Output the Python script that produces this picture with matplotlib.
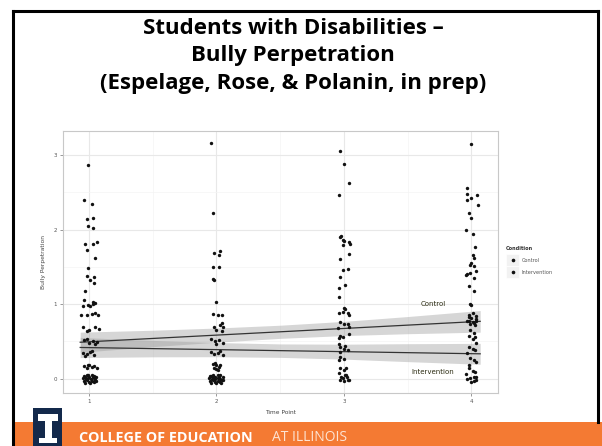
import matplotlib
matplotlib.use("Agg")
import matplotlib.pyplot as plt
from matplotlib.patches import Rectangle
from matplotlib.lines import Line2D
import numpy as np

W, H = 602, 446

# ---- data -------------------------------------------------------------
time_points = [1, 2, 3, 4]
time_labels = ["1", "2", "3", "4"]
y_ticks = [0, 1, 2, 3]
y_tick_labels = ["0", "1", "2", "3"]
conditions = ["Control", "Intervention"]

# jittered observations per wave: (horizontal jitter, score)
ctrl_t1 = [(-0.01, 2.86), (0.02, 2.34), (0.03, 2.16), (0.03, 2.02), (0.03, 1.81),
           (-0.02, 1.73), (-0.01, 1.48), (0.04, 1.37), (0.04, 1.29), (-0.04, 1.05),
           (-0.01, 0.99), (0.03, 1.00), (-0.06, 0.86), (0.02, 0.87), (-0.05, 0.69),
           (0.05, 0.70), (-0.04, 0.52), (0.03, 0.50), (0.06, 0.49), (-0.05, 0.35),
           (0.01, 0.36), (0.02, 0.37), (-0.04, 0.17), (0.0, 0.18), (0.04, 0.17),
           (-0.04, 0.04), (0.0, 0.03), (0.04, 0.04), (-0.045, 0.01), (-0.005, 0.015),
           (0.035, 0.01), (-0.04, -0.03), (0.0, -0.04), (0.04, -0.045), (0.01, -0.055),
           (0.045, -0.02), (-0.035, 0.025)]
intv_t1 = [(-0.04, 2.39), (-0.02, 2.14), (-0.01, 2.05), (-0.03, 1.80), (0.06, 1.83),
           (0.05, 1.62), (-0.02, 1.38), (0.01, 1.33), (-0.03, 1.17), (0.03, 1.03),
           (0.01, 0.98), (-0.05, 0.97), (0.05, 1.01), (-0.02, 0.85), (0.05, 0.88),
           (0.07, 0.86), (0.0, 0.66), (0.08, 0.67), (-0.02, 0.64), (0.0, 0.48),
           (0.05, 0.47), (-0.02, 0.53), (-0.02, 0.33), (0.04, 0.32), (-0.03, 0.31),
           (-0.02, 0.15), (0.02, 0.16), (0.06, 0.15), (-0.01, 0.19), (-0.02, 0.05),
           (0.02, 0.05), (0.055, 0.02), (-0.025, 0.0), (0.015, -0.005), (0.05, -0.01),
           (-0.02, -0.02), (0.02, -0.03), (0.055, -0.035), (-0.03, -0.05),
           (0.03, 0.025), (-0.01, 0.045)]

ctrl_t2 = [(-0.04, 3.16), (-0.02, 1.69), (0.02, 1.66), (-0.03, 1.50), (-0.03, 1.34),
           (0.0, 1.03), (-0.03, 0.87), (0.04, 0.85), (-0.02, 0.70), (0.045, 0.75),
           (0.0, 0.66), (-0.04, 0.53), (0.02, 0.52), (0.0, 0.46), (-0.04, 0.36),
           (0.01, 0.35), (0.05, 0.32), (-0.03, 0.20), (0.0, 0.18), (0.02, 0.16),
           (0.0, 0.13), (-0.05, 0.04), (-0.01, 0.03), (0.03, 0.045), (-0.035, 0.0),
           (0.01, 0.01), (0.045, -0.01), (-0.05, -0.03), (-0.01, -0.04),
           (0.03, -0.045), (0.0, -0.055), (-0.025, 0.02)]
intv_t2 = [(-0.03, 2.22), (0.03, 1.71), (0.02, 1.50), (-0.02, 1.33), (0.01, 0.86),
           (0.03, 0.72), (0.05, 0.69), (0.04, 0.64), (-0.01, 0.50), (0.05, 0.48),
           (-0.02, 0.33), (0.03, 0.37), (-0.02, 0.14), (0.01, 0.12), (-0.01, 0.21),
           (0.03, 0.19), (-0.03, 0.05), (0.01, 0.05), (0.05, 0.03), (-0.055, 0.01),
           (-0.015, -0.005), (0.025, 0.0), (0.05, -0.02), (-0.03, -0.02),
           (0.01, -0.03), (0.035, -0.05), (-0.04, -0.05), (0.02, 0.025),
           (-0.045, 0.035)]

ctrl_t3 = [(-0.03, 3.05), (0.0, 2.88), (0.04, 2.63), (-0.04, 2.46), (-0.03, 1.90),
           (-0.01, 1.86), (0.04, 1.83), (-0.01, 1.79), (0.04, 1.67), (-0.03, 1.60),
           (0.03, 1.47), (-0.03, 1.36), (0.01, 1.26), (-0.04, 1.09), (0.0, 0.95),
           (-0.01, 0.90), (-0.04, 0.88), (-0.03, 0.76), (0.03, 0.74), (-0.05, 0.68),
           (0.04, 0.60), (-0.01, 0.56), (-0.04, 0.46), (0.0, 0.40), (0.01, 0.44),
           (-0.03, 0.29), (0.02, 0.14), (0.01, 0.05), (-0.02, 0.02), (0.03, -0.01)]
intv_t3 = [(-0.025, 1.91), (0.0, 1.84), (0.045, 1.80), (-0.01, 1.46), (-0.04, 1.21),
           (0.01, 0.93), (0.03, 0.88), (0.04, 0.86), (0.0, 0.73), (0.04, 0.70),
           (-0.03, 0.58), (-0.04, 0.55), (-0.03, 0.42), (0.03, 0.38), (-0.03, 0.36),
           (0.0, 0.27), (-0.04, 0.25), (-0.03, 0.14), (0.0, 0.12), (-0.04, 0.08),
           (0.015, 0.05), (-0.01, 0.01), (0.025, 0.02), (0.04, -0.02), (-0.03, -0.01),
           (0.0, -0.03)]

ctrl_t4 = [(0.0, 3.15), (-0.03, 2.55), (-0.03, 2.40), (0.05, 2.33), (0.0, 2.42),
           (-0.02, 2.22), (-0.04, 2.00), (0.03, 1.76), (0.01, 1.66), (-0.01, 1.52),
           (0.0, 1.55), (-0.03, 1.41), (0.04, 1.44), (-0.02, 1.24), (-0.01, 1.00),
           (-0.02, 0.86), (0.04, 0.84), (0.01, 0.76), (-0.02, 0.83), (0.04, 0.80),
           (0.02, 0.75), (0.03, 0.72), (-0.01, 0.66), (-0.02, 0.58), (0.01, 0.53),
           (0.01, 0.40), (-0.01, 0.28), (0.04, 0.22), (0.01, 0.11), (-0.04, 0.06),
           (-0.01, 0.01), (0.02, -0.03)]
intv_t4 = [(-0.03, 2.47), (0.045, 2.46), (0.0, 2.16), (0.01, 1.94), (0.02, 1.62),
           (0.02, 1.51), (-0.01, 1.42), (-0.04, 1.39), (0.02, 1.35), (0.02, 1.17),
           (0.0, 0.99), (0.01, 0.88), (-0.02, 0.77), (0.04, 0.78), (0.0, 0.81),
           (-0.03, 0.78), (-0.01, 0.73), (0.02, 0.62), (0.03, 0.56), (0.04, 0.48),
           (-0.02, 0.43), (0.03, 0.38), (-0.03, 0.35), (0.02, 0.25), (-0.02, 0.19),
           (-0.02, 0.14), (0.03, 0.09), (0.02, 0.03), (0.04, -0.01), (-0.03, 0.0),
           (0.0, -0.04), (0.035, 0.02)]

ctrl_points = [ctrl_t1, ctrl_t2, ctrl_t3, ctrl_t4]
intv_points = [intv_t1, intv_t2, intv_t3, intv_t4]

# linear trend per condition (fitted at the first and last wave) and CI half-width
fit_range = [0.93, 4.07]
ctrl_fit = [0.49, 0.77]
intv_fit = [0.42, 0.335]
band_t = [0.93, 1.5, 2.0, 2.5, 3.0, 3.5, 4.07]
ctrl_halfwidth = [0.135, 0.11, 0.095, 0.088, 0.095, 0.115, 0.145]
intv_halfwidth = [0.135, 0.11, 0.095, 0.09, 0.10, 0.12, 0.14]

# ---- figure -----------------------------------------------------------
fig = plt.figure(figsize=(W / 100, H / 100), dpi=100)
fig.patch.set_facecolor("white")


def fx(px):
    return px / W


def fy(py):
    return 1 - py / H


# slide frame
fig.add_artist(Line2D([fx(13), fx(13)], [0, fy(11)], color="black", lw=2.2))
fig.add_artist(Line2D([fx(598), fx(598)], [fy(422), fy(11)], color="black", lw=2.2))
fig.add_artist(Line2D([fx(13), fx(598)], [fy(11), fy(11)], color="black", lw=2.2))

# title
for txt, yy in [("Students with Disabilities \u2013", 29),
                ("Bully Perpetration", 56),
                ("(Espelage, Rose, & Polanin, in prep)", 83)]:
    fig.text(fx(293), fy(yy), txt, ha="center", va="center",
             fontsize=16, fontweight="bold", family="Open Sans", color="black")

# plot panel
ax = fig.add_axes([fx(63), fy(393), fx(498) - fx(63), (393 - 131) / H])
ax.set_xlim(0.795, 4.21)
ax.set_ylim(-0.19, 3.32)
ax.set_facecolor("white")
for s in ax.spines.values():
    s.set_color("#c8c8c8")
    s.set_linewidth(0.8)
ax.set_xticks(time_points)
ax.set_xticklabels(time_labels)
ax.set_yticks(y_ticks)
ax.set_yticklabels(y_tick_labels)
ax.set_xticks([1.5, 2.5, 3.5], minor=True)
ax.set_yticks([0.5, 1.5, 2.5], minor=True)
ax.tick_params(which="major", length=2.5, width=0.6, color="#888888",
               labelsize=4, labelcolor="#555555", pad=2)
ax.tick_params(which="minor", length=0)
ax.grid(which="major", color="#e8e8e8", lw=0.8)
ax.grid(which="minor", color="#f4f4f4", lw=0.5)
ax.set_axisbelow(True)
ax.set_xlabel("Time Point", fontsize=4.2, color="#444444", labelpad=4)
ax.set_ylabel("Bully Perpetration", fontsize=4.3, color="#444444", labelpad=5)

# smoothed trend with confidence band
for fit, hw in [(ctrl_fit, ctrl_halfwidth), (intv_fit, intv_halfwidth)]:
    centre = np.interp(band_t, fit_range, fit)
    ax.fill_between(band_t, centre - np.array(hw), centre + np.array(hw),
                    color="#999999", alpha=0.4, lw=0, zorder=2)
    ax.plot(fit_range, fit, color="#333333", lw=0.9, zorder=3)

# jittered observations
for group in (ctrl_points, intv_points):
    for t, pts in zip(time_points, group):
        xs = [t + d for d, _ in pts]
        ys = [v for _, v in pts]
        ax.scatter(xs, ys, s=6, color="#111111", marker="o", linewidths=0,
                   zorder=4)

ax.text(3.7, 1.0, "Control", fontsize=5, color="#2a2a10",
        ha="center", va="center", zorder=5)
ax.text(3.7, 0.09, "Intervention", fontsize=5, color="#2a2a10",
        ha="center", va="center", zorder=5)

# legend
fig.text(fx(506), fy(249), "Condition", fontsize=3.6, color="#333333",
         ha="left", va="center", fontweight="bold")
for lbl, yy in zip(conditions, [260, 272]):
    fig.add_artist(Rectangle((fx(506), fy(yy + 6)), fx(13), 12 / H,
                             facecolor="#f2f2f2", edgecolor="white", lw=0.5))
    fig.add_artist(Line2D([fx(512.5)], [fy(yy)], marker="o", markersize=1.6,
                          color="#111111", lw=0))
    fig.text(fx(522), fy(yy), lbl, fontsize=3.6, color="#555555",
             ha="left", va="center")

# footer band
fig.add_artist(Rectangle((fx(13), 0), fx(602) - fx(13), (446 - 422) / H,
                         facecolor="#f47a33", edgecolor="none"))
# block-I logo
fig.add_artist(Rectangle((fx(33), 0), fx(29), (446 - 408) / H,
                         facecolor="#13294b", edgecolor="none"))
fig.add_artist(Rectangle((fx(38), fy(421)), fx(20), 7 / H,
                         facecolor="white", edgecolor="none"))
fig.add_artist(Rectangle((fx(44.5), fy(438)), fx(7), 17 / H,
                         facecolor="white", edgecolor="none"))
fig.add_artist(Rectangle((fx(39), fy(443)), fx(18), 5 / H,
                         facecolor="white", edgecolor="none"))
fig.text(fx(79), fy(437.5), "COLLEGE OF EDUCATION", fontsize=10.4,
         fontweight="bold", family="Open Sans", color="white",
         ha="left", va="center")
fig.text(fx(272), fy(437.5), "AT ILLINOIS", fontsize=10,
         family="Open Sans", color="#fde3d2", ha="left", va="center")

fig.savefig("out.png", dpi=100, facecolor="white")
